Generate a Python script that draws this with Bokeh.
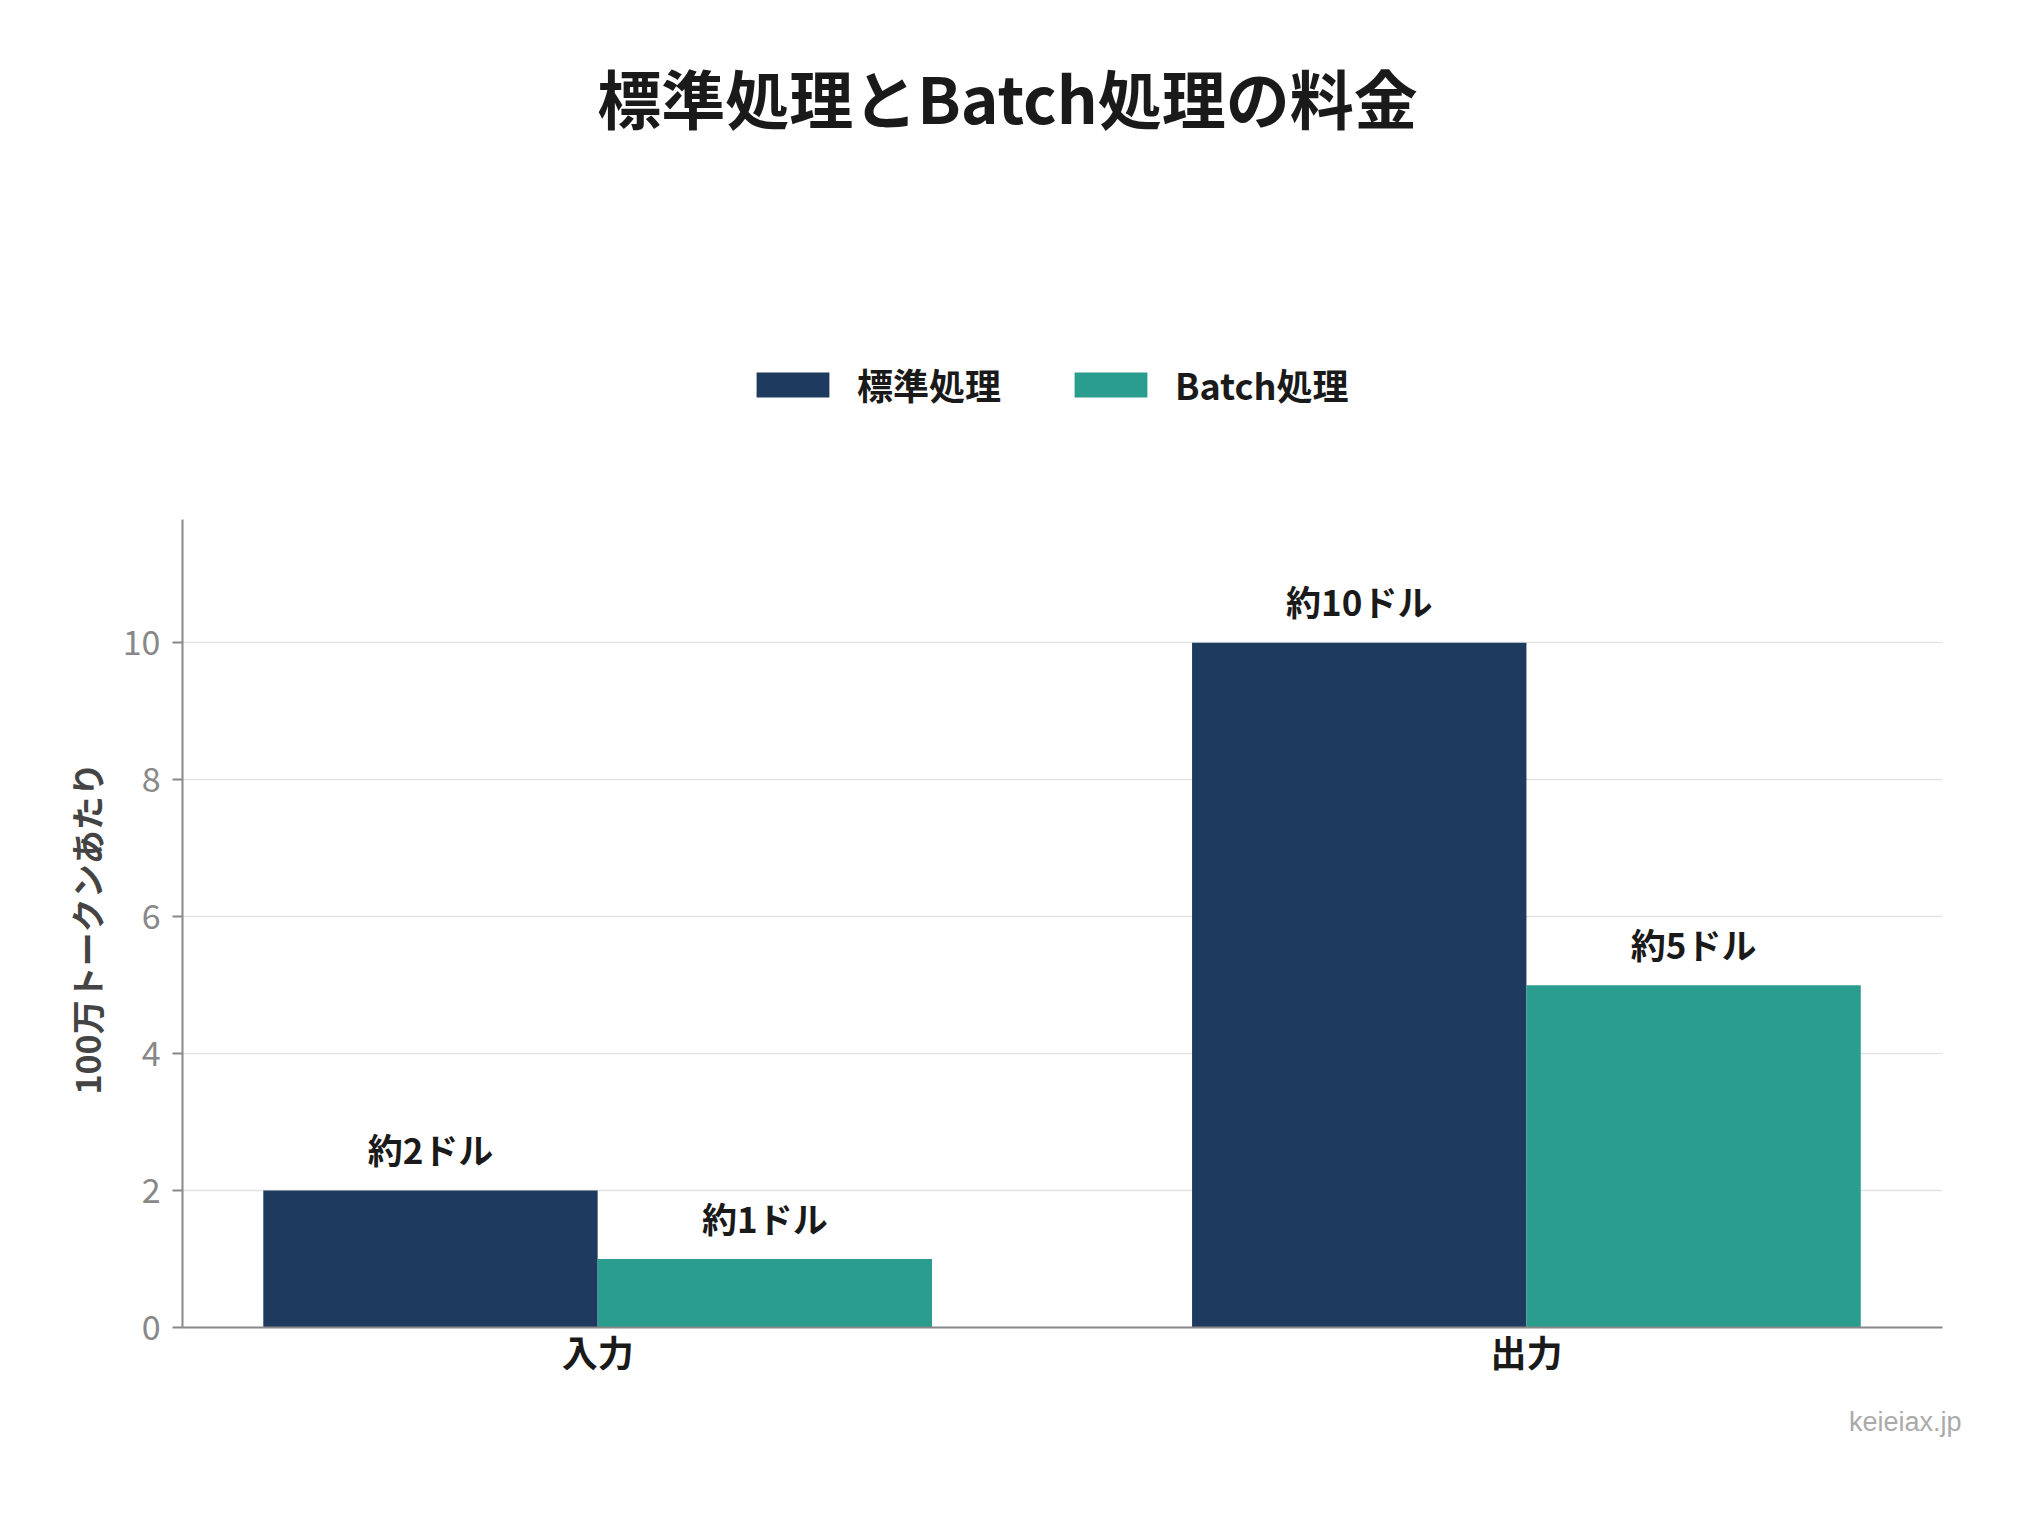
from bokeh.plotting import figure
from bokeh.models import (Range1d, FixedTicker, Legend, LegendItem, ColumnDataSource, Title, Label)
from bokeh.transform import dodge
from bokeh.core.properties import value
from bokeh.embed import file_html
from bokeh.resources import INLINE

categories = ["入力", "出力"]
standard = [2, 10]
batch = [1, 5]
standard_labels = ["約2ドル", "約10ドル"]
batch_labels = ["約1ドル", "約5ドル"]
y_ticks = [0, 2, 4, 6, 8, 10]
series_names = ["標準処理", "Batch処理"]
title_text = "標準処理とBatch処理の料金"
y_label = "100万トークンあたり"
watermark = "keieiax.jp"

NAVY = "#1e3a5f"
TEAL = "#2a9d8f"
FONT = "Noto Sans CJK JP"
DARK = "#1a1a1a"

# canvas layout (px)
W, H = 2024, 1500
BL, BR, BB = 182, 82, 173
AXIS_TOP = 519            # where the value axis ends (canvas px from top)
Y_MAX = 11.8
FRAME_H = H - BB
Y_END = Y_MAX * FRAME_H / (FRAME_H - AXIS_TOP)

src = ColumnDataSource(dict(
    x=list(range(len(categories))),
    std=standard, bat=batch,
    std_lbl=standard_labels, bat_lbl=batch_labels,
))

p = figure(width=W, height=H, output_backend="svg", toolbar_location=None,
           title_location=None,
           x_range=Range1d(-0.447, 1.448), y_range=Range1d(0, Y_END),
           min_border_left=BL, min_border_right=BR, min_border_top=0,
           min_border_bottom=BB)
p.outline_line_color = None
p.background_fill_color = "white"
p.border_fill_color = "white"

bw = 0.36
r1 = p.vbar(x=dodge("x", -bw / 2), top="std", width=bw, source=src,
            fill_color=NAVY, line_color=None)
r2 = p.vbar(x=dodge("x", bw / 2), top="bat", width=bw, source=src,
            fill_color=TEAL, line_color=None)

for ycol, tcol, dx in (("std", "std_lbl", -bw / 2), ("bat", "bat_lbl", bw / 2)):
    p.text(x=dodge("x", dx), y=ycol, text=tcol, source=src,
           text_align="center", text_baseline="middle", y_offset=-42,
           text_font=value(FONT), text_font_style="bold", text_font_size="35px",
           text_color=DARK)

# axes
p.xaxis.ticker = FixedTicker(ticks=list(range(len(categories))))
p.xaxis.major_label_overrides = {i: c for i, c in enumerate(categories)}
p.xaxis.major_tick_out = 0
p.xaxis.major_tick_in = 0
p.xaxis.minor_tick_line_color = None
p.xaxis.axis_line_color = "#888888"
p.xaxis.axis_line_width = 2
p.xaxis.major_label_text_font = FONT
p.xaxis.major_label_text_font_style = "bold"
p.xaxis.major_label_text_font_size = "36px"
p.xaxis.major_label_text_color = DARK
p.xaxis.major_label_standoff = -3

p.yaxis.ticker = FixedTicker(ticks=y_ticks)
p.yaxis.bounds = (0, Y_MAX)
p.yaxis.major_tick_out = 10
p.yaxis.major_tick_in = 0
p.yaxis.minor_tick_line_color = None
p.yaxis.axis_line_color = "#888888"
p.yaxis.axis_line_width = 2
p.yaxis.major_tick_line_color = "#888888"
p.yaxis.major_tick_line_width = 2
p.yaxis.major_label_text_font = FONT
p.yaxis.major_label_text_font_size = "34px"
p.yaxis.major_label_text_color = "#888888"
p.yaxis.major_label_standoff = 12

p.xgrid.grid_line_color = None
p.ygrid.grid_line_color = "#e4e4e4"
p.ygrid.grid_line_width = 1.5

# value-axis title, placed beside the axis (starts 233px above the frame bottom)
ylab = Title(text=y_label, align="left", offset=233, standoff=17,
             text_font=FONT, text_font_style="bold", text_font_size="34px",
             text_color="#444444")
p.add_layout(ylab, "left")

legend = Legend(items=[LegendItem(label=series_names[0], renderers=[r1]),
                       LegendItem(label=series_names[1], renderers=[r2])],
                orientation="horizontal", location=(565, FRAME_H - 410),
                glyph_width=91, glyph_height=31, label_standoff=19, spacing=64,
                label_text_font=FONT, label_text_font_style="bold",
                label_text_font_size="36px", label_text_color=DARK,
                border_line_color=None, background_fill_alpha=0, margin=0, padding=0)
p.add_layout(legend, "center")

title = Label(x=825, y=FRAME_H - 95, x_units="screen", y_units="screen",
              text=title_text, text_align="center", text_baseline="middle",
              text_font=FONT, text_font_style="bold", text_font_size="64px",
              text_color=DARK)
p.add_layout(title)

wm = Title(text=watermark, align="right", offset=-19, text_font="Liberation Sans",
           text_font_style="normal", text_font_size="27px", text_color="#aaaaaa",
           standoff=50)
p.add_layout(wm, "below")

open("out.html", "w").write(file_html(p, INLINE))
